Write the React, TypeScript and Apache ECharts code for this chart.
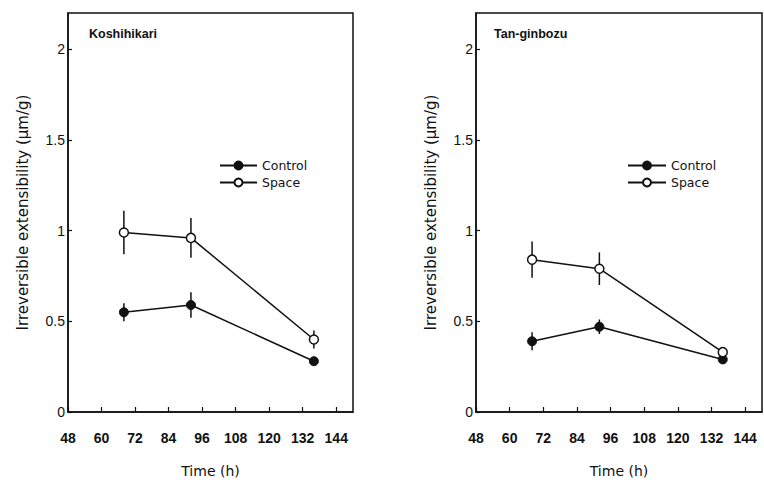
import React, { useEffect, useRef } from "react";
import * as echarts from "echarts";

const times = [68, 92, 136];
const xTicks = [48, 60, 72, 84, 96, 108, 120, 132, 144];
const yTicks = [0, 0.5, 1, 1.5, 2];
const panelNames = ["Koshihikari", "Tan-ginbozu"];
const koshiControl = [0.55, 0.59, 0.28];
const koshiControlErr = [0.05, 0.07, 0.02];
const koshiSpace = [0.99, 0.96, 0.4];
const koshiSpaceErr = [0.12, 0.11, 0.05];
const tanControl = [0.39, 0.47, 0.29];
const tanControlErr = [0.05, 0.04, 0.02];
const tanSpace = [0.84, 0.79, 0.33];
const tanSpaceErr = [0.1, 0.09, 0.02];

const FONT = "Liberation Sans, Arial, sans-serif";
const WIDE = "DejaVu Sans, Verdana, sans-serif";
const INK = "#111";

export default function App() {
  const ref = useRef<HTMLDivElement>(null);
  useEffect(() => {
    if (!ref.current) return;
    const chart = echarts.init(ref.current, undefined, { renderer: "svg" });

    const grids = [
      { left: 68, top: 13, width: 285, height: 403 },
      { left: 476, top: 13, width: 286, height: 404 },
    ];

    const mkX = (i: number) => ({
      type: "value",
      gridIndex: i,
      min: 48,
      max: 150,
      interval: 12,
      name: "Time (h)",
      nameLocation: "middle",
      nameGap: 52,
      nameTextStyle: { fontFamily: WIDE, fontSize: 14, color: INK },
      axisLine: { show: true, lineStyle: { color: INK, width: 1.5 } },
      axisTick: { show: true, inside: true, length: 5, lineStyle: { color: INK, width: 1.2 } },
      axisLabel: {
        showMaxLabel: false,
        margin: 19,
        fontFamily: FONT,
        fontSize: 14,
        fontWeight: "bold",
        color: INK,
        formatter: (v: number) => (xTicks.includes(v) ? String(v) : ""),
      },
      splitLine: { show: false },
    });

    const mkY = (i: number) => ({
      type: "value",
      gridIndex: i,
      min: 0,
      max: 2.2,
      interval: 0.5,
      name: "Irreversible extensibility (\u03bcm/g)",
      nameLocation: "middle",
      nameRotate: 90,
      nameGap: 38,
      nameTextStyle: { fontFamily: WIDE, fontSize: 15, color: INK },
      axisLine: { show: true, lineStyle: { color: INK, width: 1.5 } },
      axisTick: { show: true, inside: true, length: 4, lineStyle: { color: INK, width: 1.2 } },
      axisLabel: {
        showMaxLabel: false,
        margin: 3,
        fontFamily: FONT,
        fontSize: 14,
        color: INK,
        formatter: (v: number) => (yTicks.includes(v) ? String(v) : ""),
      },
      splitLine: { show: false },
    });

    const errSeries = (i: number, vals: number[], errs: number[]) => ({
      type: "custom",
      xAxisIndex: i,
      yAxisIndex: i,
      z: 1,
      silent: true,
      data: times.map((t, k) => [t, vals[k] - errs[k], vals[k] + errs[k]]),
      renderItem: (params: any, api: any) => {
        const lo = api.coord([api.value(0), api.value(1)]);
        const hi = api.coord([api.value(0), api.value(2)]);
        return {
          type: "line",
          shape: { x1: lo[0], y1: lo[1], x2: hi[0], y2: hi[1] },
          style: { stroke: INK, lineWidth: 1.5 },
        };
      },
    });

    const lineSeries = (i: number, name: string, vals: number[], open: boolean) => ({
      type: "line",
      name,
      xAxisIndex: i,
      yAxisIndex: i,
      z: 3,
      data: times.map((t, k) => [t, vals[k]]),
      symbol: "circle",
      symbolSize: 9,
      lineStyle: { color: INK, width: 1.5 },
      itemStyle: open
        ? { color: "#fff", borderColor: INK, borderWidth: 1.5 }
        : { color: INK, borderColor: INK, borderWidth: 1 },
    });

    const legendText = { fontFamily: WIDE, fontSize: 12.5, color: INK };

    chart.setOption({
      animation: false,
      backgroundColor: "#fff",
      title: [
        {
          text: panelNames[0],
          left: 84,
          top: 22,
          textStyle: { fontFamily: FONT, fontSize: 12.5, fontWeight: "bold", color: INK },
        },
        {
          text: panelNames[1],
          left: 489,
          top: 22,
          textStyle: { fontFamily: FONT, fontSize: 12.5, fontWeight: "bold", color: INK },
        },
      ],
      legend: [
        {
          orient: "vertical",
          left: 214,
          top: 154,
          itemWidth: 37,
          itemHeight: 10,
          itemGap: 4,
          textStyle: legendText,
          data: ["Control", "Space"],
          selectedMode: false,
        },
        {
          orient: "vertical",
          left: 622,
          top: 154,
          itemWidth: 38,
          itemHeight: 10,
          itemGap: 4,
          textStyle: legendText,
          data: ["Control", "Space"],
          selectedMode: false,
        },
      ],
      grid: grids.map((g) => ({
        ...g,
        show: true,
        borderColor: INK,
        borderWidth: 1.5,
        backgroundColor: "transparent",
      })),
      xAxis: [mkX(0), mkX(1)],
      yAxis: [mkY(0), mkY(1)],
      series: [
        errSeries(0, koshiControl, koshiControlErr),
        errSeries(0, koshiSpace, koshiSpaceErr),
        lineSeries(0, "Control", koshiControl, false),
        lineSeries(0, "Space", koshiSpace, true),
        errSeries(1, tanControl, tanControlErr),
        errSeries(1, tanSpace, tanSpaceErr),
        lineSeries(1, "Control", tanControl, false),
        lineSeries(1, "Space", tanSpace, true),
      ],
    });

    return () => chart.dispose();
  }, []);

  return <div ref={ref} style={{ width: 764, height: 483, position: "absolute", left: 0, top: 0 }} />;
}
